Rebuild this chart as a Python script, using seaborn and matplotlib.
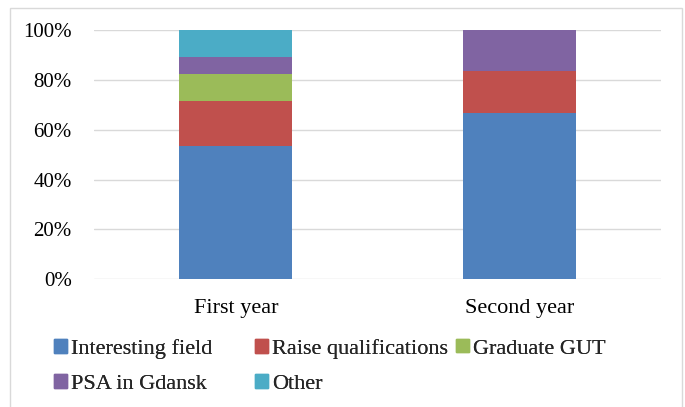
import matplotlib.pyplot as plt
import matplotlib.patches as mpatches
import numpy as np
import pandas as pd
import seaborn as sns

years = ["First year", "Second year"]
reasons = ["Interesting field", "Raise qualifications", "Graduate GUT", "PSA in Gdansk", "Other"]
colors = ["#4F81BD", "#C0504D", "#9BBB59", "#8064A2", "#4BACC6"]
# share of answers (%) per reason, in stacking order
first_year = [53.6, 17.9, 10.7, 7.1, 10.7]
second_year = [66.7, 16.7, 0.0, 16.6, 0.0]

sns.set_style("white")
plt.rcParams["font.family"] = ["Liberation Serif", "DejaVu Serif"]

df = pd.DataFrame({"First year": first_year, "Second year": second_year}, index=reasons)
cum = df.cumsum()

fig = plt.figure(figsize=(6.85, 4.07), dpi=100)
ax = fig.add_axes([94 / 685, 1 - 279.3 / 407, 567 / 685, 249.3 / 407])

# draw from the top segment down so lower segments cover upper ones
for reason, color in list(zip(reasons, colors))[::-1]:
    long = pd.DataFrame({"year": years, "value": cum.loc[reason, years].values})
    sns.barplot(data=long, x="year", y="value", color=color, width=0.40,
                saturation=1, ax=ax, edgecolor="none", order=years)

ax.set_xlim(-0.5, 1.5)
ax.set_ylim(0, 100)
ax.set_yticks(np.arange(0, 101, 20))
ax.set_yticklabels([f"{v}%" for v in range(0, 101, 20)])
ax.set_xlabel("")
ax.set_ylabel("")
ax.yaxis.grid(True, color="#d9d9d9", linewidth=1)
ax.set_axisbelow(True)
for s in ax.spines.values():
    s.set_visible(False)
ax.tick_params(axis="y", length=0, pad=16, labelsize=15, colors="#000000")
ax.tick_params(axis="x", length=0, pad=14, labelsize=16, colors="#000000")

# outer chart border
fig.patches.append(mpatches.Rectangle((10 / 685, -0.05), 672 / 685, 1.05 - 8 / 407,
                                      transform=fig.transFigure, fill=False,
                                      edgecolor="#d9d9d9", linewidth=1))

handles = {r: mpatches.Patch(color=c, label=r) for r, c in zip(reasons, colors)}
columns = [(["Interesting field", "PSA in Gdansk"], 54),
           (["Raise qualifications", "Other"], 255),
           (["Graduate GUT"], 456)]
for names, xpix in columns:
    leg = fig.legend(handles=[handles[n] for n in names], loc="upper left",
                     bbox_to_anchor=(xpix / 685, 1 - 339 / 407), frameon=False,
                     handlelength=0.6, handleheight=0.55, handletextpad=0.18,
                     labelspacing=0.7, fontsize=16, borderaxespad=0, borderpad=0)
    fig.add_artist(leg)

fig.savefig("out.png", dpi=100, facecolor="white")
